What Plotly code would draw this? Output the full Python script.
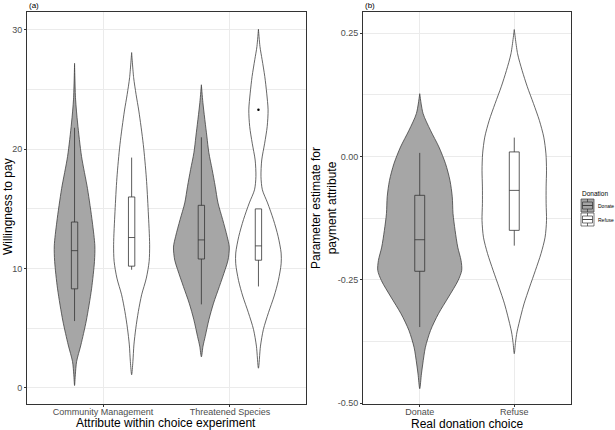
import plotly.graph_objects as go

# ---------------- data ----------------
# Panel (a): Willingness to pay by attribute, split by donation choice
attr_categories = ["Community Management", "Threatened Species"]
donation_groups = ["Donate", "Refuse"]

# violin profiles: y value and half-width (density, in x-axis units)
cm_donate_y = [0.2, 1.1, 2.2, 3.6, 5.6, 8.3, 10.6, 11.9, 13.9, 16.7, 19.4, 22.2, 24.2, 27.2]
cm_donate_d = [0.0, 0.006, 0.016, 0.050, 0.092, 0.134, 0.157, 0.160, 0.140, 0.102, 0.055, 0.024, 0.008, 0.0]

cm_refuse_y = [1.1, 2.2, 3.6, 5.0, 6.4, 7.8, 9.2, 10.6, 12.0, 14.8, 17.6, 20.4, 23.2, 24.6, 26.0, 28.1]
cm_refuse_d = [0.0, 0.010, 0.018, 0.033, 0.053, 0.079, 0.116, 0.138, 0.142, 0.131, 0.116, 0.092, 0.057, 0.035, 0.016, 0.0]

ts_donate_y = [2.6, 3.5, 4.3, 5.7, 7.1, 8.5, 9.9, 10.7, 11.8, 12.7, 14.1, 15.5, 16.9, 18.3, 19.7, 21.1, 23.9, 25.4]
ts_donate_d = [0.0, 0.013, 0.030, 0.059, 0.096, 0.142, 0.187, 0.210, 0.220, 0.203, 0.168, 0.131, 0.109, 0.085, 0.059, 0.043, 0.012, 0.0]

ts_refuse_y = [1.65, 3.5, 4.9, 6.3, 7.7, 9.0, 10.4, 11.3, 12.7, 14.1, 15.5, 16.6, 17.7, 19.1, 20.5, 21.9, 23.3, 24.7, 26.1, 27.5, 28.6, 30.05]
ts_refuse_d = [0.0, 0.016, 0.039, 0.079, 0.124, 0.157, 0.179, 0.179, 0.155, 0.118, 0.072, 0.031, 0.020, 0.026, 0.049, 0.069, 0.076, 0.065, 0.050, 0.029, 0.012, 0.0]

# box statistics: [lower whisker, q1, median, q3, upper whisker]
cm_donate_box = [5.6, 8.3, 11.5, 13.9, 21.8]
cm_refuse_box = [9.9, 10.2, 12.6, 16.0, 19.3]
ts_donate_box = [7.0, 10.8, 12.4, 15.3, 21.0]
ts_refuse_box = [8.5, 10.7, 11.9, 15.0, 15.0]
ts_refuse_outlier = [23.3]

# Panel (b): parameter estimate for payment attribute
choice_categories = ["Donate", "Refuse"]

real_donate_y = [-0.471, -0.441, -0.421, -0.387, -0.353, -0.319, -0.285, -0.252, -0.231, -0.211, -0.184, -0.150, -0.116, -0.082, -0.049, -0.015, 0.019, 0.053, 0.087, 0.127]
real_donate_d = [0.0, 0.018, 0.032, 0.060, 0.114, 0.198, 0.305, 0.405, 0.444, 0.437, 0.402, 0.374, 0.352, 0.344, 0.320, 0.273, 0.203, 0.113, 0.035, 0.0]

real_refuse_y = [-0.400, -0.377, -0.356, -0.322, -0.299, -0.265, -0.231, -0.197, -0.164, -0.130, -0.096, -0.062, -0.028, 0.005, 0.039, 0.073, 0.107, 0.141, 0.174, 0.208, 0.257]
real_refuse_d = [0.0, 0.013, 0.029, 0.071, 0.103, 0.162, 0.224, 0.283, 0.326, 0.341, 0.337, 0.337, 0.341, 0.335, 0.312, 0.265, 0.203, 0.138, 0.083, 0.035, 0.0]

real_donate_box = [-0.346, -0.233, -0.169, -0.079, 0.007]
real_refuse_box = [-0.181, -0.150, -0.069, 0.009, 0.038]

left_y_ticks = [0, 10, 20, 30]
right_y_ticks = [-0.50, -0.25, 0.00, 0.25]
right_y_ticktext = ["-0.50", "-0.25", "0.00", "0.25"]

# ---------------- styling ----------------
W, H = 615, 430
FONT = "Liberation Sans, Arial, sans-serif"
FILL = {"Donate": "#A6A6A6", "Refuse": "#FFFFFF"}
OUTLINE = "#404040"
BOXLINE = "#333333"
GRID = "#EBEBEB"
DODGE = 0.225
LEFT_Y_RANGE = [-1.35, 31.5]
RIGHT_Y_RANGE = [-0.502, 0.2926]
X_RANGE = [0.4, 2.6]

fig = go.Figure()


def add_violin(xc, ys, ds, group, xa, ya):
    xs = [xc + d for d in ds] + [xc - d for d in reversed(ds)]
    yy = list(ys) + list(reversed(ys))
    fig.add_trace(go.Scatter(
        x=xs, y=yy, mode="lines", fill="toself", fillcolor=FILL[group],
        line=dict(color=OUTLINE, width=0.8, shape="spline", smoothing=0.8),
        name=group, showlegend=False, xaxis=xa, yaxis=ya, hoverinfo="skip"))


def add_box(xc, stats, group, width, xa, ya):
    lo, q1, med, q3, hi = stats
    fig.add_trace(go.Box(
        x=[xc], q1=[q1], median=[med], q3=[q3], lowerfence=[lo], upperfence=[hi],
        width=width, fillcolor=FILL[group], line=dict(color=BOXLINE, width=0.8),
        boxpoints=False, whiskerwidth=0, showlegend=False, xaxis=xa, yaxis=ya,
        name=group, hoverinfo="skip"))


# Panel (a): violins on x/y, boxes on overlaid x3/y3 (drawn on top)
add_violin(1 - DODGE, cm_donate_y, cm_donate_d, "Donate", "x", "y")
add_violin(1 + DODGE, cm_refuse_y, cm_refuse_d, "Refuse", "x", "y")
add_violin(2 - DODGE, ts_donate_y, ts_donate_d, "Donate", "x", "y")
add_violin(2 + DODGE, ts_refuse_y, ts_refuse_d, "Refuse", "x", "y")
add_box(1 - DODGE, cm_donate_box, "Donate", 0.05, "x3", "y3")
add_box(1 + DODGE, cm_refuse_box, "Refuse", 0.05, "x3", "y3")
add_box(2 - DODGE, ts_donate_box, "Donate", 0.05, "x3", "y3")
add_box(2 + DODGE, ts_refuse_box, "Refuse", 0.05, "x3", "y3")
fig.add_trace(go.Scatter(x=[2 + DODGE] * len(ts_refuse_outlier), y=ts_refuse_outlier,
                         mode="markers", marker=dict(color="black", size=2.5),
                         showlegend=False, xaxis="x3", yaxis="y3", hoverinfo="skip"))

# Panel (b)
add_violin(1, real_donate_y, real_donate_d, "Donate", "x2", "y2")
add_violin(2, real_refuse_y, real_refuse_d, "Refuse", "x2", "y2")
add_box(1, real_donate_box, "Donate", 0.105, "x4", "y4")
add_box(2, real_refuse_box, "Refuse", 0.105, "x4", "y4")

y_dom = [1 - 404 / H, 1 - 12 / H]
tickfont = dict(family=FONT, size=9, color="#4D4D4D")
common_x = dict(range=X_RANGE, tickmode="array", showgrid=True, gridcolor=GRID, gridwidth=1,
                zeroline=False, showline=True, mirror=True, linecolor="#333333", linewidth=1,
                ticks="outside", ticklen=2, tickcolor="#333333", tickfont=tickfont,
                automargin=False, ticklabelstandoff=-3)
common_y = dict(showgrid=True, gridcolor=GRID, gridwidth=1, zeroline=False, showline=True,
                mirror=True, linecolor="#333333", linewidth=1, ticks="outside", ticklen=2,
                tickcolor="#333333", tickfont=tickfont, domain=y_dom, automargin=False)
hidden = dict(visible=False, automargin=False, showgrid=False, zeroline=False)

fig.update_layout(
    template="none",
    width=W, height=H, margin=dict(l=0, r=0, t=0, b=0, pad=0),
    paper_bgcolor="white", plot_bgcolor="white",
    font=dict(family=FONT, color="black"),
    boxmode="overlay", showlegend=False,
    xaxis=dict(common_x, domain=[27 / W, 306 / W], tickvals=[1, 2], ticktext=attr_categories,
               anchor="y"),
    yaxis=dict(common_y, range=LEFT_Y_RANGE, tickmode="array", tickvals=left_y_ticks, anchor="x",
               minor=dict(showgrid=True, gridcolor=GRID, gridwidth=0.5, tick0=0, dtick=5, ticks="")),
    xaxis2=dict(common_x, domain=[363 / W, 571 / W], tickvals=[1, 2], ticktext=choice_categories,
                anchor="y2"),
    yaxis2=dict(common_y, range=RIGHT_Y_RANGE, tickmode="array", tickvals=right_y_ticks,
                ticktext=right_y_ticktext, anchor="x2",
                minor=dict(showgrid=True, gridcolor=GRID, gridwidth=0.5, tick0=0, dtick=0.125, ticks="")),
    xaxis3=dict(hidden, overlaying="x", range=X_RANGE, anchor="y3"),
    yaxis3=dict(hidden, overlaying="y", range=LEFT_Y_RANGE, anchor="x3"),
    xaxis4=dict(hidden, overlaying="x2", range=X_RANGE, anchor="y4"),
    yaxis4=dict(hidden, overlaying="y2", range=RIGHT_Y_RANGE, anchor="x4"),
)

ann = [
    dict(text="(a)", x=27 / W, y=1 - 5 / H, xanchor="left", yanchor="middle", font=dict(size=8)),
    dict(text="(b)", x=363 / W, y=1 - 5 / H, xanchor="left", yanchor="middle", font=dict(size=8)),
    dict(text="Willingness to pay", x=8 / W, y=1 - 207 / H, textangle=-90,
         xanchor="center", yanchor="middle", font=dict(size=12)),
    dict(text="Attribute within choice experiment", x=166 / W, y=1 - 423 / H,
         xanchor="center", yanchor="middle", font=dict(size=12)),
    dict(text="Parameter estimate for<br>payment attribute", x=324 / W, y=1 - 208 / H, textangle=-90,
         xanchor="center", yanchor="middle", font=dict(size=12)),
    dict(text="Real donation choice", x=467 / W, y=1 - 424 / H,
         xanchor="center", yanchor="middle", font=dict(size=12)),
    # legend
    dict(text="Donation", x=580 / W, y=1 - 193 / H, xanchor="left", yanchor="middle", font=dict(size=6.5)),
    dict(text="Donate", x=596 / W, y=1 - 206 / H, xanchor="left", yanchor="middle", font=dict(size=5)),
    dict(text="Refuse", x=596 / W, y=1 - 220 / H, xanchor="left", yanchor="middle", font=dict(size=5)),
]
for a in ann:
    a.update(xref="paper", yref="paper", showarrow=False)
    a["font"].update(family=FONT, color="black")
fig.update_layout(annotations=ann)

# legend key glyphs (violin + box)
shapes = []
for group, top in [("Donate", 199), ("Refuse", 213)]:
    x0, x1, y0, y1 = 581, 594, top, top + 13
    xm = (x0 + x1) / 2
    def P(px, py):
        return px / W, 1 - py / H
    ax0, ay0 = P(x0, y0); ax1, ay1 = P(x1, y1)
    shapes.append(dict(type="rect", x0=ax0, x1=ax1, y0=ay1, y1=ay0, fillcolor=FILL[group],
                       line=dict(color=OUTLINE, width=0.7)))
    bx0, by0 = P(x0 + 1.5, y0 + 3); bx1, by1 = P(x1 - 1.5, y1 - 3)
    shapes.append(dict(type="rect", x0=bx0, x1=bx1, y0=by1, y1=by0, fillcolor=FILL[group],
                       line=dict(color=BOXLINE, width=0.7)))
    mx0, my = P(x0 + 1.5, (y0 + y1) / 2); mx1, _ = P(x1 - 1.5, 0)
    shapes.append(dict(type="line", x0=mx0, x1=mx1, y0=my, y1=my, line=dict(color=BOXLINE, width=0.9)))
    wx, wy0 = P(xm, y0); _, wy1 = P(xm, y0 + 3)
    shapes.append(dict(type="line", x0=wx, x1=wx, y0=wy0, y1=wy1, line=dict(color=BOXLINE, width=0.7)))
    _, wy2 = P(xm, y1 - 3); _, wy3 = P(xm, y1)
    shapes.append(dict(type="line", x0=wx, x1=wx, y0=wy2, y1=wy3, line=dict(color=BOXLINE, width=0.7)))
for s in shapes:
    s.update(xref="paper", yref="paper")
fig.update_layout(shapes=shapes)

fig.write_html("out.html", config={"displayModeBar": False},
               post_script="document.body.style.margin='0';document.body.style.padding='0';")
